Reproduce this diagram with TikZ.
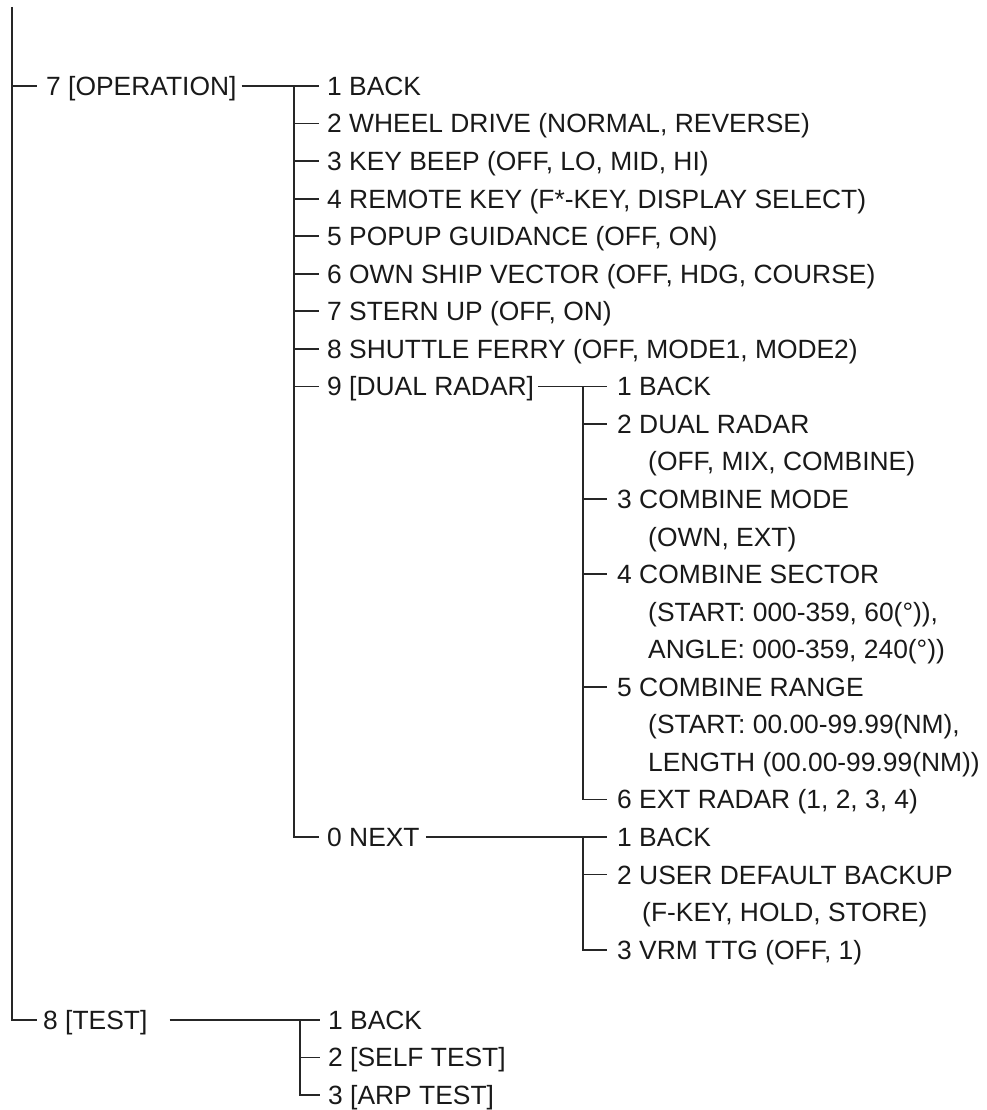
\documentclass[tikz,border=0pt]{standalone}
\usepackage{fontspec}
\setmainfont{Liberation Sans}
\usepackage{tikz}
\usetikzlibrary{calc}
% row height of the menu listing
\newcommand{\ry}[1]{86+37.55*#1}
\tikzset{item/.style={anchor=west,inner sep=0pt,text height=18.9pt,text depth=0pt,font=\fontsize{26.4}{30}\selectfont,text=black!90},
  tree/.style={line width=1.8pt,draw=black!85,line join=miter}}

\begin{document}
\begin{tikzpicture}[x=1pt,y=-1pt]
  \useasboundingbox (0,0) rectangle (986,1110);
  \coordinate (top) at (12,7);
  \node[item] (op) at (46,{\ry{0}}) {7 [OPERATION]};
  \node[item] (ts) at (43,1020) {8 [TEST]};
  % operation menu
  \coordinate (opx) at (294,0);
  \node[item] (op1) at (327,{\ry{0}}) {1 BACK};
  \node[item] (op2) at (327,{\ry{1}}) {2 WHEEL DRIVE (NORMAL, REVERSE)};
  \node[item] (op3) at (327,{\ry{2}}) {3 KEY BEEP (OFF, LO, MID, HI)};
  \node[item] (op4) at (327,{\ry{3}}) {4 REMOTE KEY (F*-KEY, DISPLAY SELECT)};
  \node[item] (op5) at (327,{\ry{4}}) {5 POPUP GUIDANCE (OFF, ON)};
  \node[item] (op6) at (327,{\ry{5}}) {6 OWN SHIP VECTOR (OFF, HDG, COURSE)};
  \node[item] (op7) at (327,{\ry{6}}) {7 STERN UP (OFF, ON)};
  \node[item] (op8) at (327,{\ry{7}}) {8 SHUTTLE FERRY (OFF, MODE1, MODE2)};
  \node[item] (op9) at (327,{\ry{8}}) {9 [DUAL RADAR]};
  \node[item] (op0) at (327,{\ry{20}}) {0 NEXT};
  % dual radar menu
  \coordinate (drx) at (583,0);
  \node[item] (dr1) at (617,{\ry{8}}) {1 BACK};
  \node[item] (dr2) at (617,{\ry{9}}) {2 DUAL RADAR};
  \node[item] (dr2a) at (648,{\ry{10}}) {(OFF, MIX, COMBINE)};
  \node[item] (dr3) at (617,{\ry{11}}) {3 COMBINE MODE};
  \node[item] (dr3a) at (648,{\ry{12}}) {(OWN, EXT)};
  \node[item] (dr4) at (617,{\ry{13}}) {4 COMBINE SECTOR};
  \node[item] (dr4a) at (648,{\ry{14}}) {(START: 000-359, 60(°)),};
  \node[item] (dr4b) at (648,{\ry{15}}) {ANGLE: 000-359, 240(°))};
  \node[item] (dr5) at (617,{\ry{16}}) {5 COMBINE RANGE};
  \node[item] (dr5a) at (648,{\ry{17}}) {(START: 00.00-99.99(NM),};
  \node[item] (dr5b) at (648,{\ry{18}}) {LENGTH (00.00-99.99(NM))};
  \node[item] (dr6) at (617,{\ry{19}}) {6 EXT RADAR (1, 2, 3, 4)};
  % next menu
  \node[item] (nx1) at (617,{\ry{20}}) {1 BACK};
  \node[item] (nx2) at (617,{\ry{21}}) {2 USER DEFAULT BACKUP};
  \node[item] (nx2a) at (642,{\ry{22}}) {(F-KEY, HOLD, STORE)};
  \node[item] (nx3) at (617,{\ry{23}}) {3 VRM TTG (OFF, 1)};
  % test menu
  \coordinate (tsx) at (300,0);
  \node[item] (ts1) at (328,1020) {1 BACK};
  \node[item] (ts2) at (328,1057.5) {2 [SELF TEST]};
  \node[item] (ts3) at (328,1095) {3 [ARP TEST]};

  % lines
  \draw[tree] (top) -- (top |- ts.west) -- ([xshift=-6pt]ts.west);
  \draw[tree] (top |- op.west) -- ([xshift=-9pt]op.west);
  \draw[tree] ([xshift=5pt]op.east) -- ([xshift=-8pt]op1.west);
  \draw[tree] (opx |- op1.west) -- (opx |- op0.west) -- ([xshift=-8pt]op0.west);
  \foreach \n in {op2,op3,op4,op5,op6,op7,op8,op9}
    \draw[tree] (opx |- \n.west) -- ([xshift=-8pt]\n.west);
  \draw[tree] ([xshift=4pt]op9.east) -- ([xshift=-10pt]dr1.west);
  \draw[tree] (drx |- dr1.west) -- (drx |- dr6.west) -- ([xshift=-10pt]dr6.west);
  \foreach \n in {dr2,dr3,dr4,dr5}
    \draw[tree] (drx |- \n.west) -- ([xshift=-10pt]\n.west);
  \draw[tree] ([xshift=6pt]op0.east) -- ([xshift=-10pt]nx1.west);
  \draw[tree] (drx |- nx1.west) -- (drx |- nx3.west) -- ([xshift=-10pt]nx3.west);
  \draw[tree] (drx |- nx2.west) -- ([xshift=-10pt]nx2.west);
  \draw[tree] ([xshift=22pt]ts.east) -- ([xshift=-8pt]ts1.west);
  \draw[tree] (tsx |- ts1.west) -- (tsx |- ts3.west) -- ([xshift=-8pt]ts3.west);
  \draw[tree] (tsx |- ts2.west) -- ([xshift=-8pt]ts2.west);
\end{tikzpicture}
\end{document}
